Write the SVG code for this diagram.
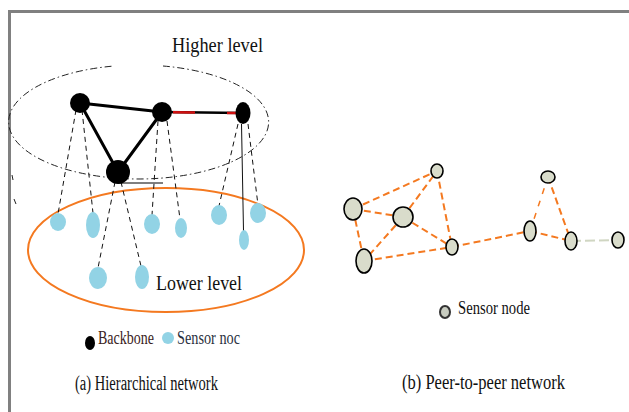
<svg xmlns="http://www.w3.org/2000/svg" width="629" height="412" viewBox="0 0 629 412">
<style>
.t{font-family:"Liberation Serif","Times New Roman",serif;fill:#111}
.bb{fill:#000}
.sn{fill:#92d3e5}
.pn{fill:#d9dccb;stroke:#000;stroke-width:1.6}
.bl{stroke:#000;stroke-width:3;fill:none;stroke-linecap:round}
.dl{stroke:#111;stroke-width:1;stroke-dasharray:5 4;fill:none}
.oe{stroke:#f47920;stroke-width:2;stroke-dasharray:7 4;fill:none}
</style>
<rect width="629" height="412" fill="#fff"/>
<path d="M8 11.5H629M9.5 11V412" stroke="#808080" stroke-width="3" fill="none"/>

<g id="levels">
<path d="M163 66A130 57 0 1 1 112 66.2" fill="none" stroke="#222" stroke-width="1" stroke-dasharray="7 3 1.5 3"/>
<ellipse cx="166" cy="250" rx="138" ry="62" fill="none" stroke="#f47920" stroke-width="2"/>
<text class="t" x="172" y="52" font-size="22" textLength="91" lengthAdjust="spacingAndGlyphs">Higher level</text>
<text class="t" x="156" y="290" font-size="22" textLength="86" lengthAdjust="spacingAndGlyphs">Lower level</text>
</g>

<g id="connectors">
<path class="bl" d="M80 103L162 112M80 103L118 172M162 112L118 172"/>
<path d="M162 112L243 113" stroke="#000" stroke-width="2.5"/>
<path d="M173 112.3L195 112.6M227 112.9L236 113" stroke="#d01010" stroke-width="2.5"/>
<path d="M118 183H163" stroke="#000" stroke-width="1.2"/>
<path class="dl" d="M76 110L58 214M82 110L93 213M115 182L98 268M121 182L141 266M158 121L152 215M167 121L180 219M238 124L219 206M248 124L258 205"/>
<path d="M241.5 124L243.5 231" stroke="#111" stroke-width="1"/>
<path d="M12 175L13 180M14 199L16 204" stroke="#222" stroke-width="1"/>
<path class="oe" d="M353 209L437 171M353 209L403 217M353 209L364 261M403 217L437 171M403 217L364 261M403 217L452 247M437 171L452 247M364 261L452 247M452 247L530 231M530 231L571 241M548 177L571 241"/>
<path d="M530 231L548 177" stroke="#f47920" stroke-width="1.5" stroke-dasharray="6 7" fill="none"/>
<path d="M571 241L618 240" stroke="#d0d6c2" stroke-width="2" stroke-dasharray="10 4" fill="none"/>
</g>

<g id="backbone-nodes">
<circle id="bbA" class="bb" cx="80" cy="103" r="10"/>
<circle id="bbB" class="bb" cx="162" cy="112" r="10"/>
<ellipse id="bbC" class="bb" cx="243" cy="113" rx="7.5" ry="11"/>
<circle id="bbD" class="bb" cx="118" cy="172" r="12"/>
</g>

<g id="sensor-nodes">
<ellipse class="sn" cx="58" cy="222" rx="8" ry="9"/>
<ellipse class="sn" cx="93" cy="225" rx="7" ry="13"/>
<ellipse class="sn" cx="152" cy="224" rx="8" ry="10"/>
<ellipse class="sn" cx="181" cy="228" rx="6" ry="10"/>
<ellipse class="sn" cx="219" cy="215" rx="8" ry="10"/>
<ellipse class="sn" cx="258" cy="213" rx="8" ry="10"/>
<ellipse class="sn" cx="244" cy="240" rx="5" ry="10"/>
<ellipse class="sn" cx="98" cy="278" rx="9" ry="11"/>
<ellipse class="sn" cx="142" cy="277" rx="7" ry="12"/>
</g>

<g id="legend-a">
<ellipse class="bb" cx="90" cy="343" rx="5" ry="7"/>
<text class="t" x="98" y="344" font-size="18" textLength="56" lengthAdjust="spacingAndGlyphs" style="fill:#3a2222">Backbone</text>
<circle class="sn" cx="168" cy="338" r="6"/>
<text class="t" x="177" y="344" font-size="18" textLength="63" lengthAdjust="spacingAndGlyphs" style="fill:#2a3040">Sensor noc</text>
<text class="t" x="75" y="390" font-size="20" textLength="143" lengthAdjust="spacingAndGlyphs">(a) Hierarchical network</text>
</g>

<g id="peer-nodes">
<ellipse id="p1" class="pn" cx="353" cy="209" rx="9" ry="11"/>
<ellipse id="p2" class="pn" cx="403" cy="217" rx="10" ry="10"/>
<ellipse id="p3" class="pn" cx="437" cy="171" rx="6" ry="7"/>
<ellipse id="p4" class="pn" cx="364" cy="261" rx="8" ry="12"/>
<ellipse id="p5" class="pn" cx="452" cy="247" rx="6" ry="8"/>
<ellipse id="p6" class="pn" cx="530" cy="231" rx="6" ry="10"/>
<ellipse id="p7" class="pn" cx="548" cy="177" rx="7" ry="6"/>
<ellipse id="p8" class="pn" cx="571" cy="241" rx="6" ry="9"/>
<ellipse id="p9" class="pn" cx="618" cy="240" rx="6" ry="8"/>
</g>

<g id="legend-b">
<ellipse cx="445" cy="312" rx="5" ry="6" fill="#c8ccc0" stroke="#333" stroke-width="2"/>
<text class="t" x="458" y="314" font-size="18" textLength="72" lengthAdjust="spacingAndGlyphs">Sensor node</text>
<text class="t" x="402" y="389" font-size="20" textLength="163" lengthAdjust="spacingAndGlyphs">(b) Peer-to-peer network</text>
</g>
</svg>
